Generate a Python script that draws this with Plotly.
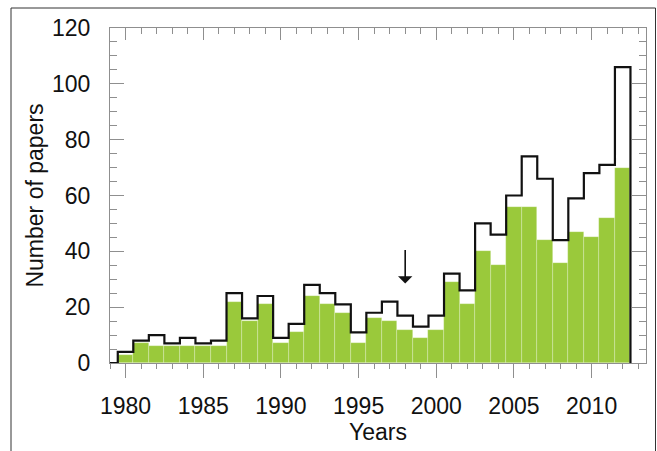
import plotly.graph_objects as go

# Publication counts per year
years = list(range(1980, 2013))
total_papers = [4, 8, 10, 7, 9, 7, 8, 25, 16, 24, 9, 14, 28, 25, 21, 11, 18, 22, 17, 13,
                17, 32, 26, 50, 46, 60, 74, 66, 44, 59, 68, 71, 106]
subset_papers = [3, 7, 6, 6, 6, 6, 6, 22, 15, 21, 7, 11, 24, 21, 18, 7, 16, 15, 12, 9,
                 12, 29, 21, 40, 35, 56, 56, 44, 36, 47, 45, 52, 70]

# Year marked with an arrow
arrow_year = 1998
arrow_from, arrow_to = 41, 28.5

x_ticks = [1980, 1985, 1990, 1995, 2000, 2005, 2010]
y_ticks = [0, 20, 40, 60, 80, 100, 120]

W, H = 657, 451
ML, MR, MT, MB = 110, 11, 28, 88
plot_w = W - ML - MR
plot_h = H - MT - MB
x_range = [1979, 2013.5]
y_range = [0, 120]

green = "#9AC93B"
axis_grey = "#8f8f8f"
font = dict(family="Liberation Sans, Arial, sans-serif", size=23, color="#111111")

# stair outline of the totals, closed down to zero on both ends
step_x = [years[0] - 1.5] + [y - 0.5 for y in years] + [years[-1] + 0.5]
step_y = [0] + total_papers + [0]

fig = go.Figure()
fig.add_trace(go.Bar(
    x=years, y=subset_papers, width=1,
    marker=dict(color=green, line=dict(color="rgba(255,255,255,0.4)", width=0.6)),
    showlegend=False, xaxis="x", yaxis="y",
))
fig.add_trace(go.Scatter(
    x=step_x, y=step_y, mode="lines", line=dict(color="#111111", width=2.2, shape="hv"),
    showlegend=False, xaxis="x2", yaxis="y",
))

fig.add_annotation(
    x=arrow_year, y=arrow_to, ax=arrow_year, ay=arrow_from,
    xref="x", yref="y", axref="x", ayref="y", text="",
    showarrow=True, arrowhead=1, arrowsize=1.5, arrowwidth=1.6, arrowcolor="#111111",
)


def px_to_paper_x(px):
    return (px - ML) / plot_w


def px_to_paper_y(py):
    return (H - MB - py) / plot_h


# outer frame around the figure
fig.add_shape(type="rect", xref="paper", yref="paper",
              x0=px_to_paper_x(11), x1=px_to_paper_x(655.5),
              y0=px_to_paper_y(480), y1=px_to_paper_y(8),
              line=dict(color="#333333", width=1), layer="below")

fig.update_layout(
    width=W, height=H,
    margin=dict(l=ML, r=MR, t=MT, b=MB),
    paper_bgcolor="white", plot_bgcolor="white",
    bargap=0, font=font,
    xaxis=dict(
        domain=[0, 1], range=x_range, tickvals=x_ticks,
        ticks="outside", ticklen=14, tickwidth=1, tickcolor=axis_grey,
        minor=dict(dtick=1, ticks="outside", ticklen=5, tickwidth=1, tickcolor=axis_grey),
        showline=True, linecolor=axis_grey, linewidth=1, mirror=False,
        showgrid=False, zeroline=False, ticklabelstandoff=8,
        title=dict(text="Years", standoff=2, font=font),
    ),
    xaxis2=dict(
        overlaying="x", matches="x", side="top", anchor="y", range=x_range,
        tickvals=x_ticks, ticks="inside", ticklen=12, tickwidth=1, tickcolor=axis_grey,
        minor=dict(dtick=1, ticks="inside", ticklen=6, tickwidth=1, tickcolor=axis_grey),
        showline=True, linecolor=axis_grey, linewidth=1,
        showticklabels=False, showgrid=False, zeroline=False,
    ),
    yaxis=dict(
        domain=[0, 1], range=y_range, tickvals=y_ticks,
        ticks="inside", ticklen=14, tickwidth=1, tickcolor=axis_grey,
        minor=dict(dtick=5, ticks="inside", ticklen=7, tickwidth=1, tickcolor=axis_grey),
        showline=True, linecolor=axis_grey, linewidth=1, mirror="ticks",
        showgrid=False, zeroline=False, ticklabelstandoff=14,
        title=dict(text="Number of papers", standoff=1, font=font),
        anchor="x",
    ),
)

fig.write_html("out.html")
